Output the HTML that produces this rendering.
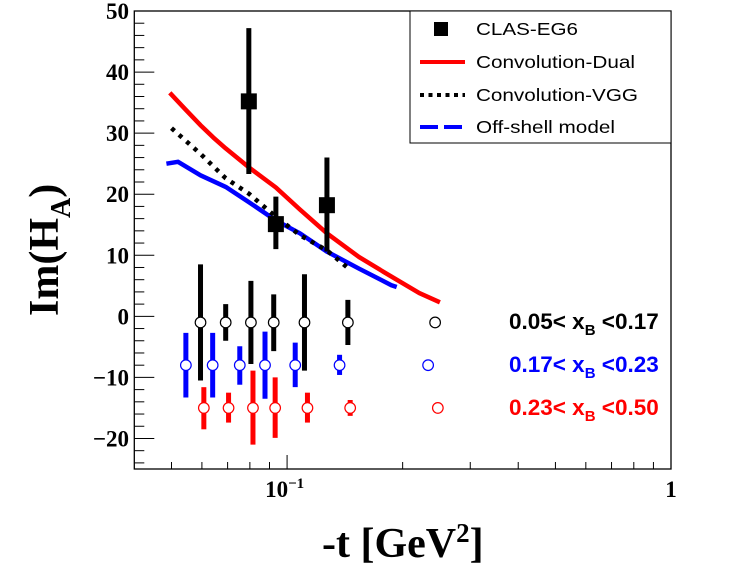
<!DOCTYPE html>
<html><head><meta charset="utf-8"><style>
html,body{margin:0;padding:0;background:#fff;}
svg{display:block;}
</style></head><body>
<svg id="chart" width="746" height="572" xmlns="http://www.w3.org/2000/svg">
<rect x="0" y="0" width="746" height="572" fill="#fff"/>
<g id="grid"></g>
<g id="marks"></g>
</svg>
<script>
// ---- data ----
const yTicks = [-20, -10, 0, 10, 20, 30, 40, 50];
const clasT = [0.0795, 0.0935, 0.127];
const clasV = [35.2, 15.1, 18.2];
const clasHi = [47.2, 19.6, 26.0];
const clasLo = [23.3, 11.0, 10.6];
const dualT = [0.0495, 0.0545, 0.0595, 0.0642, 0.0692, 0.0795, 0.0935, 0.108, 0.127, 0.154, 0.187, 0.221, 0.25];
const dualV = [36.6, 33.8, 31.3, 29.3, 27.5, 24.4, 21.1, 17.5, 13.6, 9.7, 6.5, 3.8, 2.3];
const vggT = [0.05, 0.0595, 0.0692, 0.0795, 0.0935, 0.108, 0.127, 0.146];
const vggV = [30.8, 26.6, 22.6, 20.1, 16.3, 13.3, 10.8, 7.6];
const offT = [0.0485, 0.052, 0.0595, 0.0692, 0.0795, 0.0935, 0.108, 0.127, 0.154, 0.187, 0.193];
const offV = [25.0, 25.3, 23.1, 21.2, 18.7, 15.7, 13.6, 10.6, 7.8, 5.1, 4.8];
const binLabels = ["0.05<", "0.17<", "0.23<"];
const binHiLabels = ["<0.17", "<0.23", "<0.50"];
const blackT = [0.0595, 0.0692, 0.0805, 0.0923, 0.111, 0.144, 0.243];
const blackV = [-1, -1, -1, -1, -1, -1, -1];
const blackHi = [8.5, 2.0, 5.8, 3.6, 6.9, 2.7, -1];
const blackLo = [-10.5, -4.0, -7.8, -5.7, -8.9, -4.7, -1];
const blueT = [0.0545, 0.064, 0.0753, 0.0876, 0.105, 0.137, 0.233];
const blueV = [-8, -8, -8, -8, -8, -8, -8];
const blueHi = [-2.7, -2.7, -4.9, -2.5, -4.3, -6.3, -8];
const blueLo = [-13.3, -13.3, -11.2, -13.5, -11.6, -9.6, -8];
const redT = [0.0607, 0.0704, 0.0815, 0.0931, 0.113, 0.146, 0.247];
const redV = [-15, -15, -15, -15, -15, -15, -15];
const redHi = [-11.6, -12.5, -8.9, -10.0, -12.5, -13.7, -15];
const redLo = [-18.5, -17.4, -21.0, -19.9, -17.4, -16.3, -15];

// ---- axes ----
const L = 134.3, R = 671, T = 11, B = 469;
const yMin = -25, yMax = 50;
const xMin = 0.04, xMax = 1;
function X(t){ return L + (Math.log10(t) - Math.log10(xMin)) / (Math.log10(xMax) - Math.log10(xMin)) * (R - L); }
function Y(v){ return B - (v - yMin) / (yMax - yMin) * (B - T); }
const NS = "http://www.w3.org/2000/svg";
function mk(tag, attrs, parent){ const e = document.createElementNS(NS, tag); for (const k in attrs) e.setAttribute(k, attrs[k]); parent.appendChild(e); return e; }
const grid = document.getElementById('grid');
const marks = document.getElementById('marks');
const serif = '"Liberation Serif", serif';
const sans = '"Liberation Sans", sans-serif';

let frame = mk('rect', {x:L, y:T, width:R-L, height:B-T, fill:'none', stroke:'#000', 'stroke-width':1.3}, grid);



for (let v = -24; v <= 50; v += 2) {
  const major = yTicks.indexOf(v) >= 0;
  const ln = mk('line', {x1:L, x2:L + (major ? 20 : 10), y1:Y(v), y2:Y(v), stroke:'#000', 'stroke-width':1}, grid);
  
  
}
yTicks.forEach(v => {
  const t = mk('text', {x:129, y:Y(v) + 8, 'text-anchor':'end', 'font-family':serif, 'font-weight':'bold', 'font-size':23}, grid);
  t.textContent = (v < 0 ? '\u2212' : '') + Math.abs(v);
  
  
});
const xMinor = [0.05,0.06,0.07,0.08,0.09,0.2,0.3,0.4,0.5,0.6,0.7,0.8,0.9];
xMinor.forEach(t => {
  const ln = mk('line', {x1:X(t), x2:X(t), y1:B, y2:B-7, stroke:'#000', 'stroke-width':1}, grid);
  
  
});
[0.1, 1].forEach(t => {
  const ln = mk('line', {x1:X(t), x2:X(t), y1:B, y2:B-14, stroke:'#000', 'stroke-width':1}, grid);
  
  
});
let xl = mk('text', {x:X(0.1) - 22, y:497, 'font-family':serif, 'font-weight':'bold', 'font-size':23}, grid);
xl.innerHTML = '10<tspan dy="-9" font-size="15">\u22121</tspan>';


let xl2 = mk('text', {x:X(1), y:497, 'text-anchor':'middle', 'font-family':serif, 'font-weight':'bold', 'font-size':23}, grid);
xl2.textContent = '1';



let xt = mk('text', {x:322, y:557, 'font-family':serif, 'font-weight':'bold', 'font-size':42}, grid);
xt.innerHTML = '-t [GeV<tspan dy="-15" font-size="27">2</tspan><tspan dy="15">]</tspan>';


let yt = mk('text', {x:0, y:0, transform:'translate(58,316) rotate(-90)', 'font-family':serif, 'font-weight':'bold', 'font-size':42}, grid);
yt.innerHTML = 'Im(H<tspan dy="12" font-size="28">A</tspan><tspan dy="-12">)</tspan>';



function line(ts, vs, attrs, name){
  const d = ts.map((t,i) => (i ? 'L' : 'M') + X(t).toFixed(1) + ',' + Y(vs[i]).toFixed(1)).join(' ');
  const p = mk('path', Object.assign({d:d, fill:'none', 'stroke-linejoin':'round'}, attrs), marks);
  
  
}
line(offT, offV, {stroke:'#0000ff', 'stroke-width':4.5}, 'off-shell-model-curve');
line(dualT, dualV, {stroke:'#ff0000', 'stroke-width':4.5}, 'convolution-dual-curve');
line(vggT, vggV, {stroke:'#000', 'stroke-width':4.5, 'stroke-dasharray':'4 6'}, 'convolution-vgg-curve');

function pts(ts, vs, hi, lo, col, name){
  ts.forEach((t,i) => {
    const x = X(t);
    if (hi[i] !== lo[i]) {
      const e = mk('line', {x1:x, x2:x, y1:Y(hi[i]), y2:Y(lo[i]), stroke:col, 'stroke-width':5}, marks);
      
      
    }
    const c = mk('circle', {cx:x, cy:Y(vs[i]), r:5.3, fill:'#fff', stroke:col, 'stroke-width':1.2}, marks);
    
    
  });
}
pts(blackT, blackV, blackHi, blackLo, '#000', 'xb-low');
pts(blueT, blueV, blueHi, blueLo, '#0000ff', 'xb-mid');
pts(redT, redV, redHi, redLo, '#ff0000', 'xb-high');

clasT.forEach((t,i) => {
  const x = X(t);
  const e = mk('line', {x1:x, x2:x, y1:Y(clasHi[i]), y2:Y(clasLo[i]), stroke:'#000', 'stroke-width':5}, marks);
  
  
  const s = mk('rect', {x:x-8, y:Y(clasV[i])-8, width:16, height:16, fill:'#000'}, marks);
  
  
});

const binCols = ['#000', '#0000ff', '#ff0000'];
const binY = [329, 372, 415];
binLabels.forEach((lb,i) => {
  const t = mk('text', {x:509, y:binY[i], fill:binCols[i], 'font-family':sans, 'font-weight':'bold', 'font-size':22.5}, marks);
  t.innerHTML = lb + ' x<tspan dy="6" font-size="15">B</tspan><tspan dy="-6"> ' + binHiLabels[i] + '</tspan>';
  
  
});

const lg = mk('g', {}, marks);


const lb = mk('rect', {x:410, y:T, width:R-410, height:132, fill:'#fff', stroke:'#000', 'stroke-width':1}, lg);


const ly = [29, 62, 95, 127];
const ln = ['CLAS-EG6', 'Convolution-Dual', 'Convolution-VGG', 'Off-shell model'];
const lw = [102, 159, 162, 139];
const sq = mk('rect', {x:434, y:ly[0]-7, width:14, height:14, fill:'#000'}, lg);


const l1 = mk('line', {x1:420, x2:465, y1:ly[1], y2:ly[1], stroke:'#ff0000', 'stroke-width':4}, lg);


const l2 = mk('line', {x1:420, x2:465, y1:ly[2], y2:ly[2], stroke:'#000', 'stroke-width':4, 'stroke-dasharray':'4 4.5'}, lg);


const l3 = mk('line', {x1:420, x2:465, y1:ly[3], y2:ly[3], stroke:'#0000ff', 'stroke-width':4, 'stroke-dasharray':'18 6'}, lg);


ln.forEach((s,i) => {
  const t = mk('text', {x:476, y:ly[i]+6, 'font-family':sans, 'font-size':17.5, textLength:lw[i], lengthAdjust:'spacingAndGlyphs'}, lg);
  t.textContent = s;
  
  
});
</script>
</body></html>
